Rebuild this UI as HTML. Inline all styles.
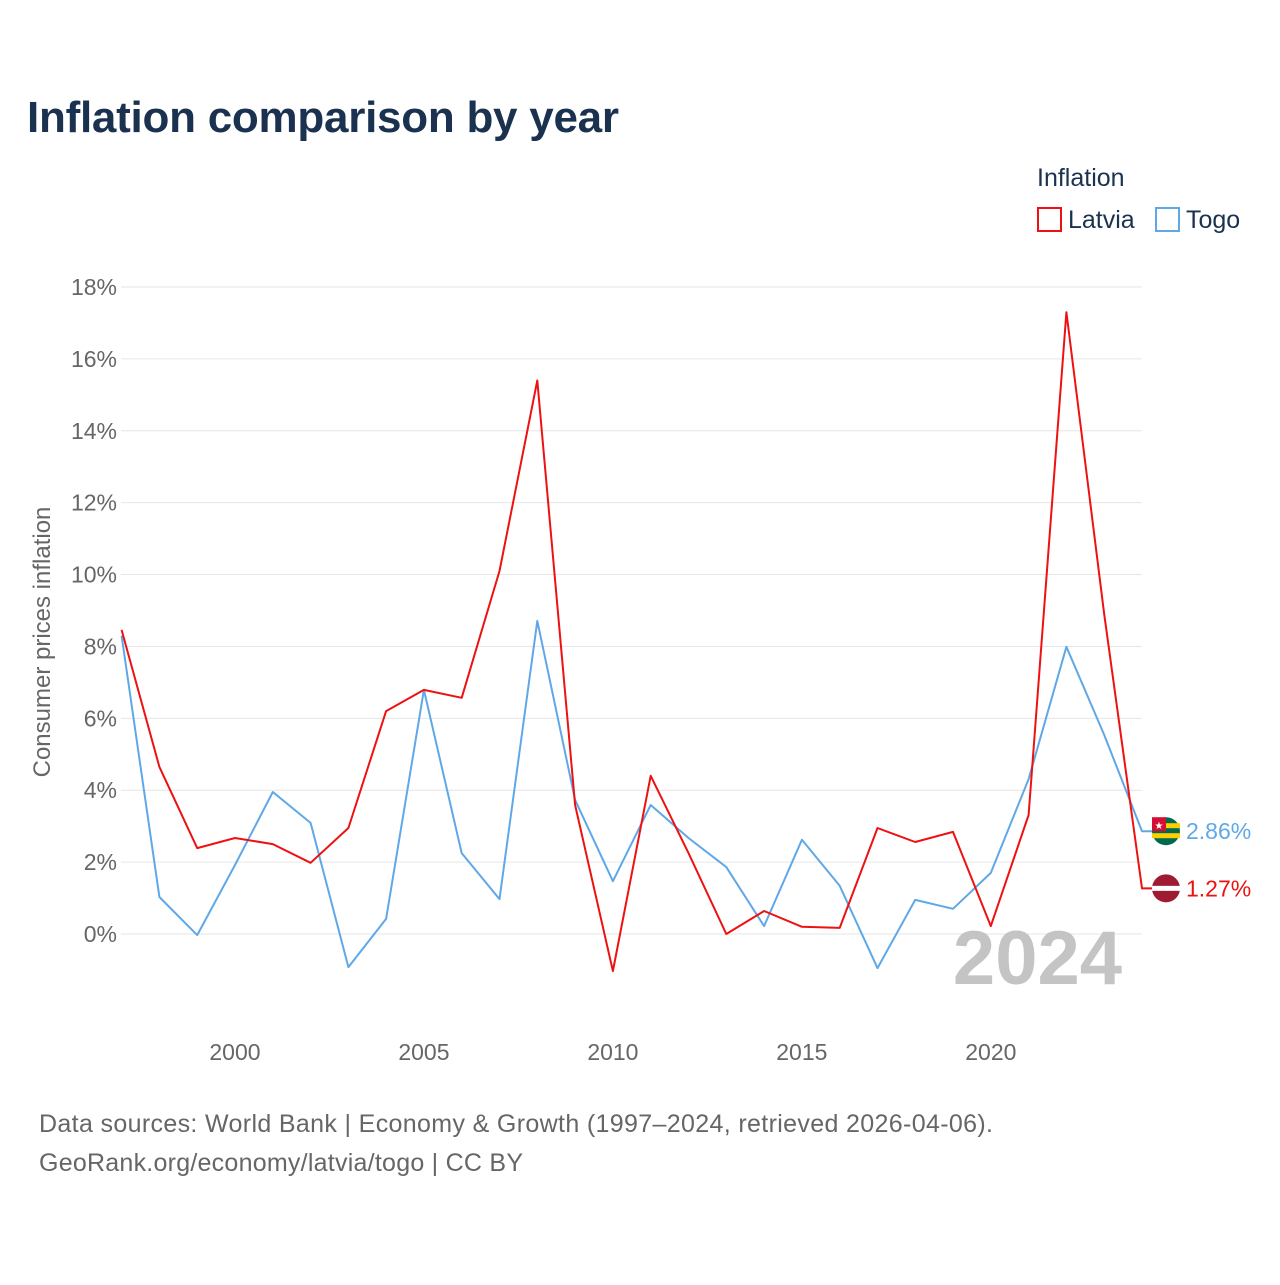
<!DOCTYPE html>
<html><head><meta charset="utf-8"><style>
body{margin:0;background:#fff;font-family:"Liberation Sans",sans-serif}
</style></head><body>
<svg width="1280" height="1280" viewBox="0 0 1280 1280" xmlns="http://www.w3.org/2000/svg">
<text x="27" y="132" font-size="44" font-weight="bold" fill="#1a3150" textLength="592">Inflation comparison by year</text>
<text x="1037" y="186" font-size="25" fill="#1a3150">Inflation</text>
<g><rect x="1038" y="208" width="23" height="23" fill="#fff" stroke="#ee1111" stroke-width="2"/><text x="1068" y="228" font-size="25" fill="#1a3150">Latvia</text></g>
<g><rect x="1156" y="208" width="23" height="23" fill="#fff" stroke="#5fa8e8" stroke-width="2"/><text x="1186" y="228" font-size="25" fill="#1a3150">Togo</text></g>
<g id="grid"></g>
<g id="yticks"></g>
<g id="xticks"></g>
<text transform="translate(50,642) rotate(-90)" text-anchor="middle" font-size="24" fill="#666">Consumer prices inflation</text>
<text x="1122" y="984" text-anchor="end" font-size="76" font-weight="bold" fill="#c4c4c4">2024</text>
<g id="series"></g>
<text x="39" y="1132" font-size="25" fill="#666" textLength="954">Data sources: World Bank | Economy &amp; Growth (1997–2024, retrieved 2026-04-06).</text>
<text x="39" y="1171" font-size="25" fill="#666" textLength="484">GeoRank.org/economy/latvia/togo | CC BY</text>
</svg>
<script>
const years=[1997,1998,1999,2000,2001,2002,2003,2004,2005,2006,2007,2008,2009,2010,2011,2012,2013,2014,2015,2016,2017,2018,2019,2020,2021,2022,2023,2024];
const latvia=[8.46,4.65,2.39,2.67,2.50,1.98,2.95,6.20,6.79,6.57,10.1,15.4,3.59,-1.03,4.40,2.25,0.0,0.64,0.2,0.17,2.95,2.56,2.84,0.22,3.31,17.3,8.9,1.27];
const togo=[8.3,1.03,-0.03,1.92,3.95,3.09,-0.92,0.42,6.79,2.25,0.97,8.71,3.73,1.47,3.59,2.67,1.86,0.22,2.62,1.34,-0.95,0.95,0.70,1.70,4.31,7.99,5.54,2.86];
const yTicks=[0,2,4,6,8,10,12,14,16,18];
const xTicks=[2000,2005,2010,2015,2020];
const NS="http://www.w3.org/2000/svg";
const X=y=>121.6+(y-1997)*(1142-121.6)/27;
const Y=v=>934-v*(934-287)/18;
function mk(t,a,p){const e=document.createElementNS(NS,t);for(const k in a)e.setAttribute(k,a[k]);p.appendChild(e);return e;}
const grid=document.getElementById('grid'),yt=document.getElementById('yticks'),xt=document.getElementById('xticks'),ser=document.getElementById('series');
yTicks.forEach(v=>{
 const l=mk('line',{x1:121,x2:1142,y1:Y(v),y2:Y(v),stroke:'#e6e6e6','stroke-width':1},grid);
 
 
 const t=mk('text',{x:117,y:Y(v)+8,'text-anchor':'end','font-size':23,fill:'#666'},yt);
 t.textContent=v+'%';
 
 
});
xTicks.forEach(v=>{
 const t=mk('text',{x:X(v),y:1060,'text-anchor':'middle','font-size':23,fill:'#666'},xt);
 t.textContent=v;
 
 
});
function line(data,color,name){
 const d=data.map((v,i)=>(i?'L':'M')+X(years[i]).toFixed(1)+','+Y(v).toFixed(1)).join('')+'H1152';
 const p=mk('path',{d:d,fill:'none',stroke:color,'stroke-width':2,'stroke-linejoin':'round'},ser);
 
 
 const last=data[data.length-1],cy=Y(last);
 const g=mk('g',{},ser);
 
 
 if(name==='latvia'){
  mk('circle',{cx:1166,cy:cy,r:14,fill:'#9e1b32'},g);
  mk('rect',{x:1152,y:cy-2.5,width:28,height:5,fill:'#fff'},g);
 }else{
  mk('circle',{cx:1166,cy:cy,r:14,fill:'#006a4e'},g);
  mk('rect',{x:1152,y:cy-8,width:28,height:5,fill:'#ffce00'},g);
  mk('rect',{x:1152,y:cy+2,width:28,height:5,fill:'#ffce00'},g);
  mk('rect',{x:1152,y:cy-14,width:14,height:14,fill:'#d21034'},g);
  mk('text',{x:1159,y:cy-2,'text-anchor':'middle','font-size':10,fill:'#fff'},g).textContent='★';
 }
 const t=mk('text',{x:1186,y:cy+8,'font-size':23,fill:color},ser);
 t.textContent=last.toFixed(2)+'%';
 
 
}
line(togo,'#5fa8e8','togo');
line(latvia,'#ee1111','latvia');
</script>
</body></html>
